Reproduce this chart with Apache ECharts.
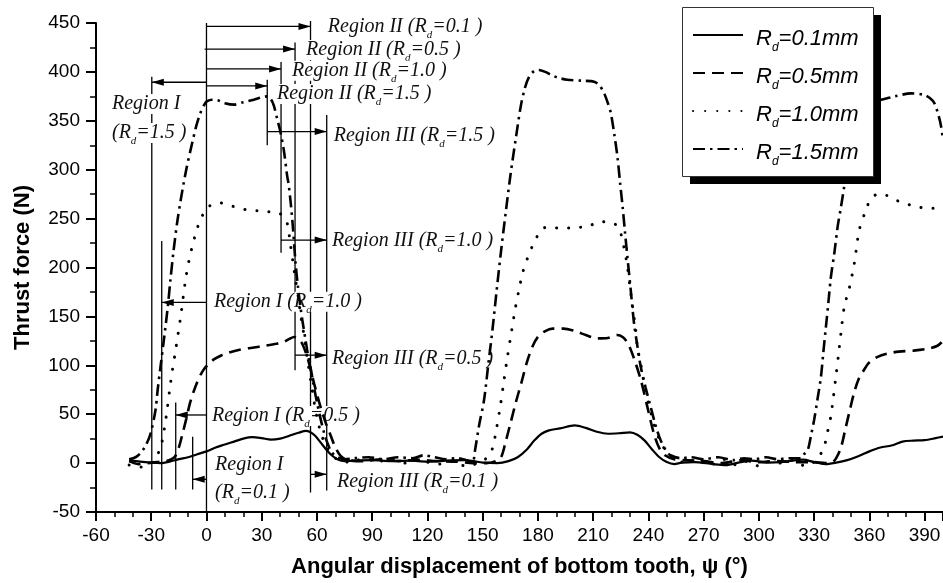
<!DOCTYPE html>
<html>
<head>
<meta charset="utf-8">
<script src="https://cdn.jsdelivr.net/npm/echarts@6/dist/echarts.min.js"></script>
<style>
html, body { margin: 0; padding: 0; background: #fff; }
#main { width: 943px; height: 583px; }
</style>
</head>
<body>
<div id="main"></div>
<script>
// thrust force curves, [angle (deg), force (N)]
var rd01 = [[-42,3],[-36,1.5],[-30,0.5],[-25,0],[-20,1.5],[-15,4],[-10,6],[-5,9],[0,12],[5,16],[10,19],[15,22],[20,25],[25,26.5],[30,25.5],[35,24],[40,25],[45,28],[50,31],[54,33],[56,32],[59,28],[62,21],[65,14],[68,8],[71,4],[75,2],[80,2.5],[90,3],[100,2],[110,2.5],[120,1.5],[130,2.5],[140,3],[145,2],[150,0.5],[158,0],[164,2],[169,6],[174,14],[178,23],[182,30],[186,33.5],[192,35.5],[200,38.5],[206,36],[212,32],[218,30],[224,30.5],[230,31.5],[234,29],[238,23],[242,14],[246,6],[250,1],[254,-1],[258,0.5],[265,1],[275,-1],[282,-2],[290,1],[296,2.5],[305,0.5],[312,1],[318,2.5],[324,3.5],[330,1],[336,-1],[342,0.5],[348,3],[354,7],[360,12],[366,16],[372,18],[378,22],[384,23],[390,23.5],[396,25.5],[400,27]];

var rd05 = [[-42,2],[-37,-1],[-32,0],[-27,1],[-22,2],[-19,4],[-17,7],[-15,16],[-13,30],[-11,45],[-9,61],[-7,73],[-5,83],[-3,91],[-1,97],[1,101],[4,106],[8,110],[12,113],[18,116],[25,118],[32,120],[38,122],[42,124],[45,127],[47.5,129],[50,127],[52,122],[54.5,110],[56.5,96],[58.5,81],[60.5,67],[62.5,54],[65,40],[67.5,28],[70,16],[73,7],[77,3],[85,2],[95,4],[105,2],[115,3.5],[125,2],[135,1.5],[145,0],[152,0],[157,2],[160,6],[162.5,22],[165,40],[168,62],[171,82],[174,103],[177,119],[180,129],[184,135],[188,137.5],[194,137.5],[200,135],[206,131],[212,127.5],[218,128],[223,131],[226,129],[229,122],[232,108],[235.9,85],[239.5,57],[243,30],[246,15],[249,8],[254,4],[260,3],[270,2],[280,0],[290,3],[300,1],[310,2],[320,1],[330,1],[336,0],[340,1],[342,5],[344.6,16],[347,35],[349.5,55],[351.6,71],[354,85],[357,95],[360,103],[364.5,108.6],[370,112],[376,114],[384,115],[392,117],[397,120],[400,125]];

var rd10 = [[-42,-2],[-38,-4],[-34,-4],[-31,-1],[-28.5,3],[-27,6],[-25.5,14],[-24,23],[-22.5,40],[-21.4,54],[-20,75],[-18.5,95],[-16.8,115],[-14,150],[-11.4,187],[-9.5,207],[-7.8,221],[-5.5,237],[-3.3,249],[-1,257],[1,262],[4,265],[7.6,266],[12,264],[17,261],[22,259],[28,258],[33,257],[37,257],[40,255],[42,252],[44,244],[45.7,222],[47,205],[48.4,187],[50,168],[51,153],[52.5,136],[53.8,119],[55.5,98],[57,80],[58.5,62],[60,47],[61.5,35],[63,26],[65,17],[68,8],[72,3],[76,1],[80,4],[86,2],[92,5],[97,1],[103,3],[108,0],[114,4],[120,1],[126,-1],[132,2],[138,-2],[143,-3],[147,0],[150,2],[153,7],[155.3,15],[157.5,35],[159.8,61],[161.6,85],[163.4,108],[165.7,135],[167.9,160],[169.8,178],[171.6,194],[173.5,205],[175.2,214],[178,226],[180.6,235],[183,240],[186,242],[192,240],[200,241],[207,242],[214,247],[218,246],[221.4,245],[223.5,241],[225,235],[226.8,220],[228.6,201],[230,180],[231.4,160],[233,138],[234,119],[236,100],[237.7,81],[240,62],[243,40],[246.5,22],[250.4,10],[254,4],[258,1],[262,5],[266,-1],[270,3],[276,-1],[282,4],[288,-2],[294,2],[300,-3],[306,2],[312,0],[318,3],[322,-1],[326,-3],[329,0],[331.9,3],[333.5,9],[335.5,17],[337.2,31],[339,47],[340.5,68],[341.8,88],[343.2,110],[344.6,133],[346.4,160],[349,178],[351.8,204],[354.5,238],[358.2,259],[361,271],[365,275],[369,274],[373,270],[377,267],[384,263],[391.7,260.5],[400,260.5]];

var rd15 = [[-42,4],[-38.5,6],[-35.9,10],[-33,18],[-30.4,30],[-27.7,54],[-26.5,75],[-25,98],[-23.2,125],[-21,160],[-19.6,187],[-18,215],[-16,245],[-14,269],[-11,300],[-7.8,327],[-5.5,345],[-3.3,358],[-1,367],[0.4,370],[3,371.5],[6,371],[10,368],[15,366.5],[20,369],[25.7,371.5],[30,374],[33,375],[35,372],[36.5,366],[38.4,352],[40,340],[42,320],[43.8,294],[44.7,284],[46.6,249],[48.4,204],[49.7,180],[51,160],[52.5,141],[53.8,126],[55,112],[56.5,98],[58,82],[60,62],[62,45],[64,30],[66,19],[68,11],[71,6],[75,4],[80,5],[88,6],[96,4],[104,6],[112,5],[118,8],[124,6],[130,4],[136,5],[141,3],[144.4,1],[146,15],[148,38],[150.7,64],[153,100],[155.3,136],[157.5,175],[159.8,214],[162.5,256],[165.2,296],[168,332],[170.7,365],[173,384],[175.2,395],[178,401],[180.6,402],[184,400],[187,397],[191,394],[196,392],[204,391],[210.5,390],[213.5,386],[216,378],[218,368],[219.6,358],[221.5,336],[223.2,313],[224.6,287],[226,262],[227.3,236],[228.6,211],[230.4,177],[232.2,143],[234,120],[235.9,98],[238.5,77],[241.3,57],[244,38],[246.7,23],[249.5,13],[252,8],[257.6,5],[263,6],[270,4],[278,6],[286,3],[292,5],[298,4],[304,6],[310,4],[316,5],[322.8,5],[324.5,9],[326.5,13],[328.3,28],[330,44],[331.9,66],[333.7,88],[335,113],[336.4,139],[337.8,165],[339.1,190],[341,215],[342.8,242],[344.6,262],[346.4,284],[348.2,315],[350,340],[352,357],[355,365],[360,369],[366.3,371.5],[374,375],[382.6,378],[389.8,376.5],[393,373],[395.3,368],[397.5,356],[399,344],[400,330]];

var seriesNames = ['Rd=0.1mm', 'Rd=0.5mm', 'Rd=1.0mm', 'Rd=1.5mm'];
var rdValues = ['0.1', '0.5', '1.0', '1.5'];

// region boundary lines: [angle, top force, bottom force]
var boundaries = [[-29.7,395,-27],[-24.3,227,-27],[-16.7,62,-27],[-7.5,27,-27],[0,450,-50],[33,392,325],[40.5,410,215],[48.1,430,95],[56.5,452,-30],[65.3,356,-28]];
// region arrows: [start angle, head angle, force]
var arrows = [[0,56.5,446.5],[-1,48.1,423.3],[0,40.5,403],[0,33,385.7],[0,-29.7,389.4],[33,65.3,339],[40.5,65.3,228],[0,-24.3,164.3],[48.1,65.3,110.4],[0,-16.7,49.2],[56.5,65.3,-11.5],[0,-7.5,-16.6]];
// region labels: [text before (R, Rd value or null, angle, force]
var regionLabels = [
  ['Region II ', '0.1', 64.8, 446],
  ['Region II ', '0.5', 53, 422.4],
  ['Region II ', '1.0', 45.4, 401.2],
  ['Region II ', '1.5', 37.2, 377.4],
  ['Region III ', '1.5', 68, 334.5],
  ['Region I', null, -52.4, 367.2],
  ['', '1.5', -52.4, 337.5],
  ['Region III ', '1.0', 67.1, 227.1],
  ['Region I ', '1.0', 3, 165],
  ['Region III ', '0.5', 67.1, 106.4],
  ['Region I ', '0.5', 1.9, 48.2],
  ['Region I', null, 3.6, -2],
  ['', '0.1', 3.6, -30.6],
  ['Region III ', '0.1', 69.8, -19.3]
];

var labelRich = {
  t: { fontFamily: 'Liberation Serif', fontStyle: 'italic', fontSize: 20, lineHeight: 20, verticalAlign: 'top', fill: '#111' },
  s: { fontFamily: 'Liberation Serif', fontStyle: 'italic', fontSize: 11, lineHeight: 11, padding: [13, 0, 0, 0], verticalAlign: 'top', fill: '#111' }
};

function renderRegions(params, api) {
  var children = [];
  boundaries.forEach(function (b) {
    var p1 = api.coord([b[0], b[1]]), p2 = api.coord([b[0], b[2]]);
    children.push({ type: 'line', shape: { x1: p1[0], y1: p1[1], x2: p2[0], y2: p2[1] }, style: { stroke: '#000', lineWidth: 1.3 } });
  });
  arrows.forEach(function (a) {
    var p1 = api.coord([a[0], a[2]]), p2 = api.coord([a[1], a[2]]);
    var dir = p2[0] > p1[0] ? 1 : -1;
    children.push({ type: 'line', shape: { x1: p1[0], y1: p1[1], x2: p2[0], y2: p2[1] }, style: { stroke: '#000', lineWidth: 1.3 } });
    children.push({ type: 'polygon', shape: { points: [[p2[0], p2[1]], [p2[0] - dir * 12, p2[1] - 3.5], [p2[0] - dir * 12, p2[1] + 3.5]] }, style: { fill: '#000' } });
  });
  regionLabels.forEach(function (l) {
    var p = api.coord([l[2], l[3]]);
    var txt = l[1] === null ? '{t|' + l[0] + '}' : '{t|' + l[0] + '(R}{s|d}{t|=' + l[1] + ' )}';
    children.push({
      type: 'text', x: p[0], y: p[1] - 10, z2: 10,
      style: { text: txt, rich: labelRich, align: 'left', verticalAlign: 'top', fill: '#111', backgroundColor: '#fff', padding: [0, 2, 0, 2] }
    });
  });
  return { type: 'group', children: children };
}

var chart = echarts.init(document.getElementById('main'));
chart.setOption({
  animation: false,
  backgroundColor: '#fff',
  grid: { left: 96, right: 0, top: 23, bottom: 71, containLabel: false, outerBoundsMode: 'none' },
  // legend frame with its hard black drop shadow
  graphic: [
    { type: 'rect', z: 5, shape: { x: 690, y: 15, width: 191, height: 169 }, style: { fill: '#000' } },
    { type: 'rect', z: 5, z2: 1, shape: { x: 682.5, y: 7.5, width: 191, height: 169 }, style: { fill: '#fff', stroke: '#333', lineWidth: 1 } }
  ],
  legend: {
    data: seriesNames,
    z: 8,
    orient: 'vertical',
    left: 682,
    top: 9,
    padding: [15, 8, 10, 10],
    itemGap: 8,
    itemWidth: 50,
    itemHeight: 14,
    itemStyle: { opacity: 0 },
    formatter: function (name) {
      var v = rdValues[seriesNames.indexOf(name)];
      return '{r0|R}{s|d}{r|=' + v + 'mm}';
    },
    textStyle: {
      rich: {
        r0: { fontFamily: 'Liberation Sans', fontStyle: 'italic', fontSize: 22, lineHeight: 22, padding: [4, 0, 4, 8], verticalAlign: 'top', color: '#000' },
        r: { fontFamily: 'Liberation Sans', fontStyle: 'italic', fontSize: 22, lineHeight: 22, padding: [4, 0, 4, 0], verticalAlign: 'top', color: '#000' },
        s: { fontFamily: 'Liberation Sans', fontStyle: 'italic', fontSize: 12, lineHeight: 12, padding: [18, 0, 0, 0], verticalAlign: 'top', color: '#000' }
      }
    }
  },
  xAxis: {
    type: 'value', min: -60, max: 400, interval: 30,
    name: 'Angular displacement of bottom tooth, \u03c8 (\u00b0)',
    nameLocation: 'middle', nameGap: 44,
    nameTextStyle: { fontFamily: 'Liberation Sans', fontWeight: 'bold', fontSize: 22, color: '#000' },
    axisLine: { onZero: false, lineStyle: { color: '#000', width: 2 } },
    axisTick: { length: 9, lineStyle: { color: '#000', width: 2 } },
    minorTick: { show: true, splitNumber: 3, length: 5, lineStyle: { color: '#000', width: 1.5 } },
    splitLine: { show: false },
    axisLabel: { showMaxLabel: false, margin: 14, fontFamily: 'Liberation Sans', fontSize: 19, color: '#000' }
  },
  yAxis: {
    type: 'value', min: -50, max: 450, interval: 50,
    name: 'Thrust force (N)',
    nameLocation: 'middle', nameGap: 62, nameRotate: 90,
    nameTextStyle: { fontFamily: 'Liberation Sans', fontWeight: 'bold', fontSize: 22, color: '#000' },
    axisLine: { show: true, onZero: false, lineStyle: { color: '#000', width: 2 } },
    axisTick: { show: true, length: 10, lineStyle: { color: '#000', width: 2 } },
    minorTick: { show: true, splitNumber: 2, length: 6, lineStyle: { color: '#000', width: 1.5 } },
    splitLine: { show: false },
    axisLabel: { margin: 16, fontFamily: 'Liberation Sans', fontSize: 19, color: '#000' }
  },
  series: [
    { type: 'custom', renderItem: renderRegions, data: [[0, 0]], z: 1, silent: true },
    { name: seriesNames[0], type: 'line', data: rd01, symbol: 'none', showSymbol: false, smooth: 0.3, z: 3,
      itemStyle: { color: '#000' }, lineStyle: { color: '#000', width: 2.2, type: 'solid' } },
    { name: seriesNames[1], type: 'line', data: rd05, symbol: 'none', showSymbol: false, smooth: 0.3, z: 3,
      itemStyle: { color: '#000' }, lineStyle: { color: '#000', width: 2.6, type: [12, 7] } },
    { name: seriesNames[2], type: 'line', data: rd10, symbol: 'none', showSymbol: false, smooth: 0.3, z: 3,
      itemStyle: { color: '#000' }, lineStyle: { color: '#000', width: 3, type: [0.1, 12], cap: 'round' } },
    { name: seriesNames[3], type: 'line', data: rd15, symbol: 'none', showSymbol: false, smooth: 0.3, z: 3,
      itemStyle: { color: '#000' }, lineStyle: { color: '#000', width: 2.6, type: [12, 5, 2.5, 5] } }
  ]
});
</script>
</body>
</html>
